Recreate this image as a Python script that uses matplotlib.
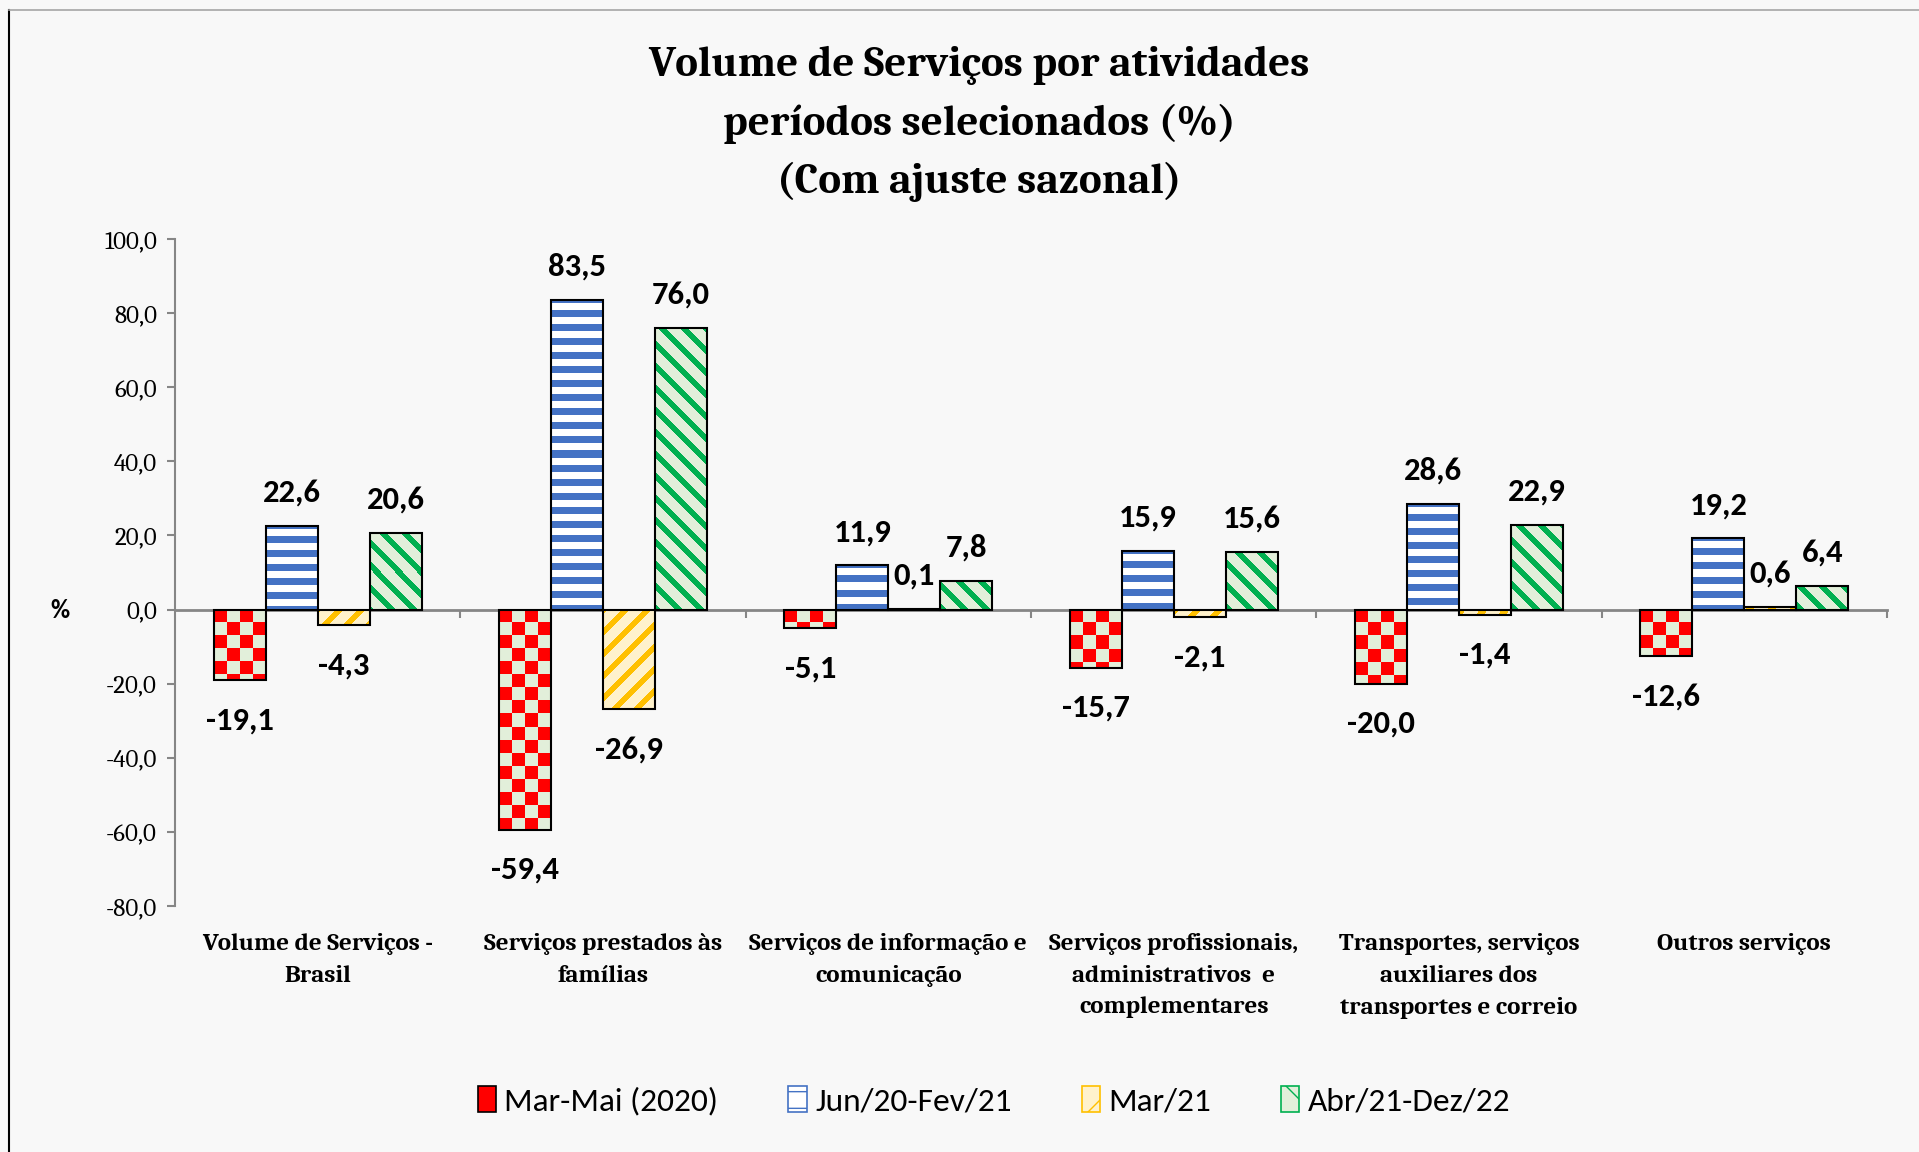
import matplotlib
matplotlib.use("Agg")
import matplotlib.pyplot as plt
from matplotlib.patches import Patch
from matplotlib.lines import Line2D
from matplotlib import font_manager
import numpy as np

# dados
categorias = [
    "Volume de Serviços -\nBrasil",
    "Serviços prestados às\nfamílias",
    "Serviços de informação e\ncomunicação",
    "Serviços profissionais,\nadministrativos  e\ncomplementares",
    "Transportes, serviços\nauxiliares dos\ntransportes e correio",
    "Outros serviços",
]
series = ["Mar-Mai (2020)", "Jun/20-Fev/21", "Mar/21", "Abr/21-Dez/22"]
mar_mai_2020 = [-19.1, -59.4, -5.1, -15.7, -20.0, -12.6]
jun20_fev21 = [22.6, 83.5, 11.9, 15.9, 28.6, 19.2]
mar21 = [-4.3, -26.9, 0.1, -2.1, -1.4, 0.6]
abr21_dez22 = [20.6, 76.0, 7.8, 15.6, 22.9, 6.4]
valores = [mar_mai_2020, jun20_fev21, mar21, abr21_dez22]
padroes = ["checker", "hstripe", "fwd", "back"]
y_ticks = list(range(-80, 101, 20))

installed = {f.name for f in font_manager.fontManager.ttflist}
def pick(*names):
    for n in names:
        if n in installed:
            return n
    return "DejaVu Sans"

SANS = pick("Carlito", "Open Sans Condensed", "Liberation Sans")
SERIF = pick("Caladea", "Liberation Serif", "DejaVu Serif")

BG = "#f8f8f8"
GRAY = "#868686"
RED, LGREEN = "#ff0000", "#e2efda"
BLUE = "#4472c4"
YEL, LYEL = "#ffc000", "#fff2cc"
GREEN = "#00b050"

def rgb(c):
    return np.array(matplotlib.colors.to_rgb(c))

def pattern(kind, w, h, ox, oy):
    yy, xx = np.mgrid[0:h, 0:w]
    if kind == "checker":
        m = ((xx // 13) + (yy // 13)) % 2 == 0
        fg, bg = RED, LGREEN
    elif kind == "hstripe":
        m = ((yy + 4) % 14) < 7
        fg, bg = BLUE, "#ffffff"
    elif kind == "fwd":
        m = ((xx + ox + yy + oy) % 22) < 8
        fg, bg = YEL, LYEL
    else:
        m = ((xx + ox - yy - oy) % 22) < 8
        fg, bg = GREEN, LGREEN
    img = np.empty((h, w, 3))
    img[m] = rgb(fg)
    img[~m] = rgb(bg)
    return img

fig = plt.figure(figsize=(19.19, 11.52), dpi=100)
fig.patch.set_facecolor(BG)
ax = fig.add_axes([175/1919, 1-906/1152, 1712/1919, 667/1152])
ax.set_facecolor(BG)
ax.set_xlim(-0.5, 5.5)
ax.set_ylim(-80, 100)

x = np.arange(len(categorias))
w = 0.182
H = fig.bbox.height
for k, vals in enumerate(valores):
    pos = x + (k - 1.5) * w
    bars = ax.bar(pos, vals, width=w, facecolor="none", edgecolor="black",
                  linewidth=1.5, zorder=3)
    for b, v in zip(bars, vals):
        lo, hi = min(0, v), max(0, v)
        (x0, y0), (x1, y1) = ax.transData.transform([(b.get_x(), lo), (b.get_x()+w, hi)])
        pw, ph = int(round(x1-x0)), int(round(y1-y0))
        if ph >= 1:
            img = pattern(padroes[k], pw, ph, int(round(x0)), int(round(H-y1)))
            ax.imshow(img, extent=(b.get_x(), b.get_x()+w, lo, hi), aspect="auto",
                      interpolation="nearest", zorder=2)
        off = 24 if v >= 0 else -29
        ax.annotate(f"{v:.1f}".replace(".", ","), (b.get_x()+w/2, v),
                    xytext=(0, off), textcoords="offset points", ha="center",
                    va="center", fontsize=23.5, fontweight="bold", family=SANS)

ax.set_xlim(-0.5, 5.5)
ax.set_ylim(-80, 100)

for s in ["top", "right"]:
    ax.spines[s].set_visible(False)
ax.spines["bottom"].set_position(("data", 0))
ax.spines["bottom"].set_color(GRAY)
ax.spines["bottom"].set_linewidth(2)
ax.spines["left"].set_color(GRAY)
ax.spines["left"].set_linewidth(1.5)
ax.spines["bottom"].set_zorder(1)

ax.set_xticks(x + 0.5)
ax.set_xticklabels([])
ax.tick_params(axis="x", direction="out", length=6, width=1.5, color=GRAY)
ax.set_yticks(y_ticks)
ax.set_yticklabels([f"{t:.1f}".replace(".", ",") for t in y_ticks],
                   fontsize=18, family=SERIF)
ax.tick_params(axis="y", direction="out", length=6, width=1.5, color=GRAY, pad=7)

for i, c in enumerate(categorias):
    ax.text(i, -0.04, c, transform=ax.get_xaxis_transform(), ha="center", va="top",
            fontsize=18, fontweight="bold", family=SERIF, linespacing=1.6)

fig.text(60/1919, 1-611/1152, "%", ha="center", va="center", fontsize=19,
         fontweight="bold", family=SANS)

fig.text(979/1919, 1-124/1152,
         "Volume de Serviços por atividades\nperíodos selecionados (%)\n(Com ajuste sazonal)",
         ha="center", va="center", fontsize=31, fontweight="bold", family=SERIF,
         linespacing=1.6)

handles = [
    Patch(facecolor=RED, edgecolor="black", linewidth=1.2),
    Patch(facecolor="white", edgecolor=BLUE, hatch="-", linewidth=1.2),
    Patch(facecolor=LYEL, edgecolor=YEL, hatch="/", linewidth=1.2),
    Patch(facecolor=LGREEN, edgecolor=GREEN, hatch="\\", linewidth=1.2),
]
leg = fig.legend(handles, series, loc="center", bbox_to_anchor=(994/1919, 1-1101/1152),
                 ncol=4, frameon=False, prop={"family": SANS, "size": 24},
                 handlelength=0.55, handleheight=0.8, handletextpad=0.25,
                 columnspacing=2.1)

# moldura da figura
fig.add_artist(Line2D([9/1919, 9/1919], [0, 1-10/1152], color="black", linewidth=1.5))
fig.add_artist(Line2D([9/1919, 1], [1-10/1152, 1-10/1152], color="#a6a6a6", linewidth=1.2))

fig.savefig("out.png", dpi=100, facecolor=BG)
